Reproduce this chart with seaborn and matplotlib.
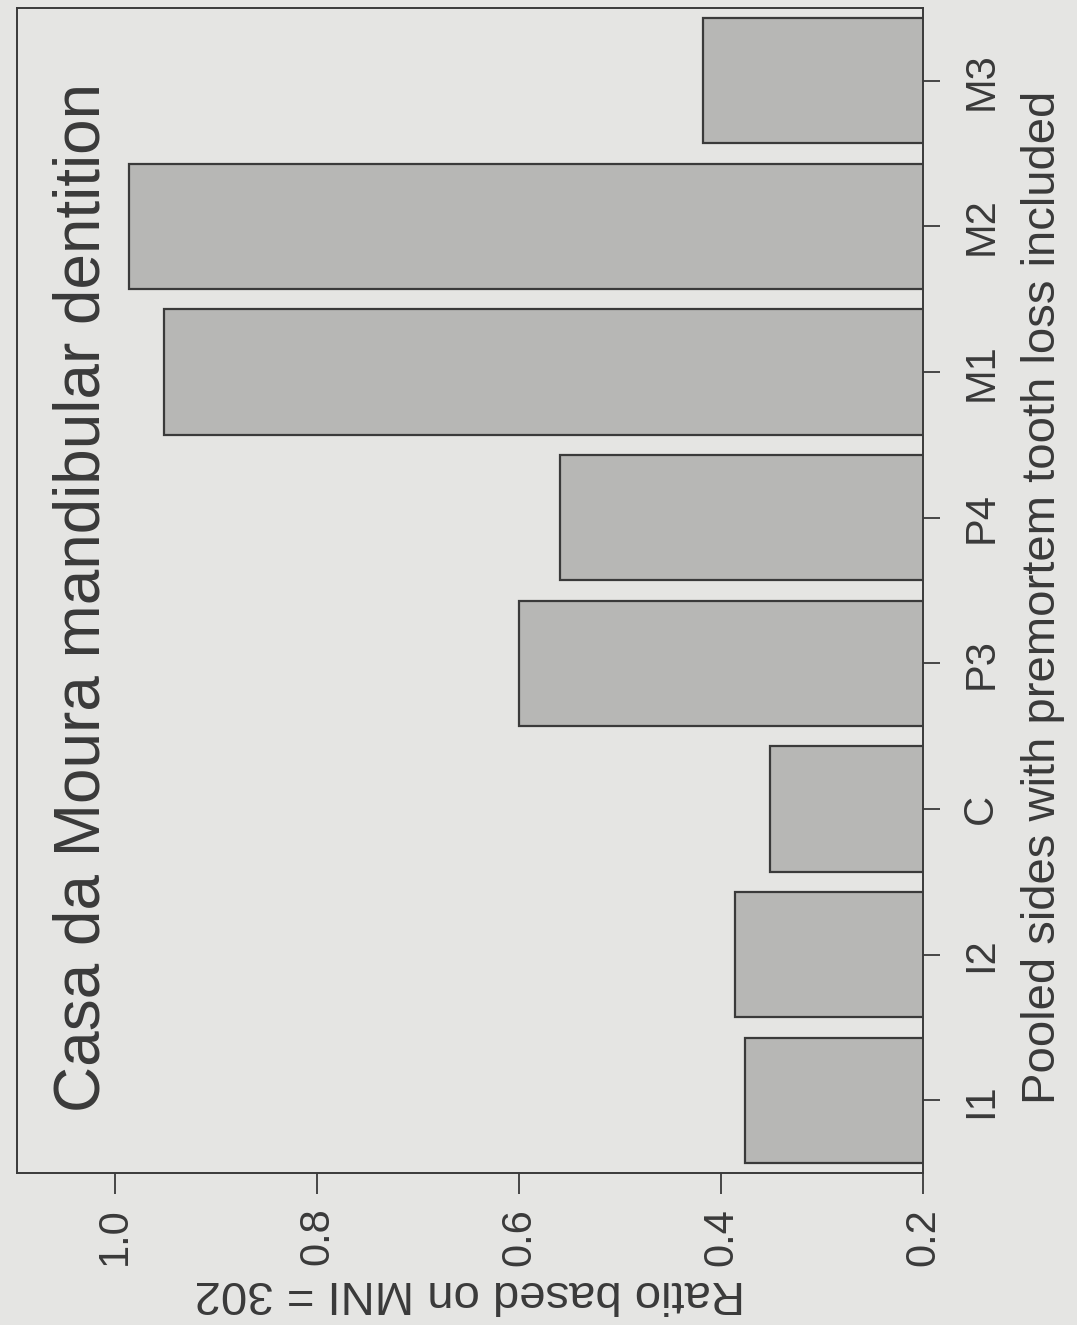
import matplotlib
matplotlib.use("Agg")
import matplotlib.pyplot as plt
import seaborn as sns
import pandas as pd

# Mandibular tooth classes and their ratios (MNI = 302)
teeth = ["I1", "I2", "C", "P3", "P4", "M1", "M2", "M3"]
ratios = [0.376, 0.386, 0.351, 0.600, 0.559, 0.951, 0.986, 0.418]
value_ticks = [0.2, 0.4, 0.6, 0.8, 1.0]
value_tick_labels = ["0.2", "0.4", "0.6", "0.8", "1.0"]

title = "Casa da Moura mandibular dentition"
category_title = "Pooled sides with premortem tooth loss included"
value_title = "Ratio based on MNI = 302"

paper = "#e5e5e3"
ink = "#3a3a3a"
bar_fill = "#b7b7b5"

sns.set_theme(style="white")
plt.rcParams["font.family"] = ["Liberation Sans", "DejaVu Sans"]
plt.rcParams["axes.edgecolor"] = ink
plt.rcParams["text.color"] = ink

df = pd.DataFrame({"tooth": teeth, "ratio": ratios})

fig = plt.figure(figsize=(10.77, 13.25), dpi=100, facecolor=paper)
ax = fig.add_axes([17 / 1077, 1 - 1173 / 1325, 906 / 1077, 1165 / 1325])
ax.set_facecolor(paper)

# Page is turned on its side: categories run bottom-to-top, values grow leftwards
sns.barplot(data=df, x="ratio", y="tooth", order=teeth[::-1], orient="h",
            color=bar_fill, saturation=1, width=0.86,
            edgecolor=ink, linewidth=1.6, ax=ax)

ax.set_xlim(1.097, 0.2)
ax.set_ylim(-0.5, len(teeth) - 0.5)
ax.invert_yaxis()

for s in ax.spines.values():
    s.set_visible(True)
    s.set_color(ink)
    s.set_linewidth(1.4)

# Category axis on the right
ax.yaxis.tick_right()
ax.tick_params(axis="y", which="major", direction="out", length=12, width=1.3,
               color=ink, pad=30, labelsize=30, labelcolor=ink, right=True, left=False)
for lab in ax.get_yticklabels():
    lab.set_rotation(90)
    lab.set_va("center")
    lab.set_ha("center")

# Value axis at the bottom
ax.set_xticks(value_ticks)
ax.set_xticklabels(value_tick_labels)
ax.tick_params(axis="x", which="major", direction="out", length=15, width=1.3,
               color=ink, pad=10, labelsize=30, labelcolor=ink, bottom=True)
for lab in ax.get_xticklabels():
    lab.set_rotation(90)
    lab.set_va("top")
    lab.set_ha("center")

ax.yaxis.set_label_position("right")
ax.set_ylabel(category_title, rotation=90, fontsize=34, color=ink, va="center")
ax.yaxis.set_label_coords(1.133, 0.494)

ax.set_xlabel(value_title, rotation=180, fontsize=34, color=ink, va="center")
ax.xaxis.set_label_coords(0.5, -0.103)

ax.text(0.072, 0.494, title, rotation=90, transform=ax.transAxes,
        ha="center", va="center", fontsize=46, color=ink)

fig.savefig("out.png", dpi=100, facecolor=paper)
